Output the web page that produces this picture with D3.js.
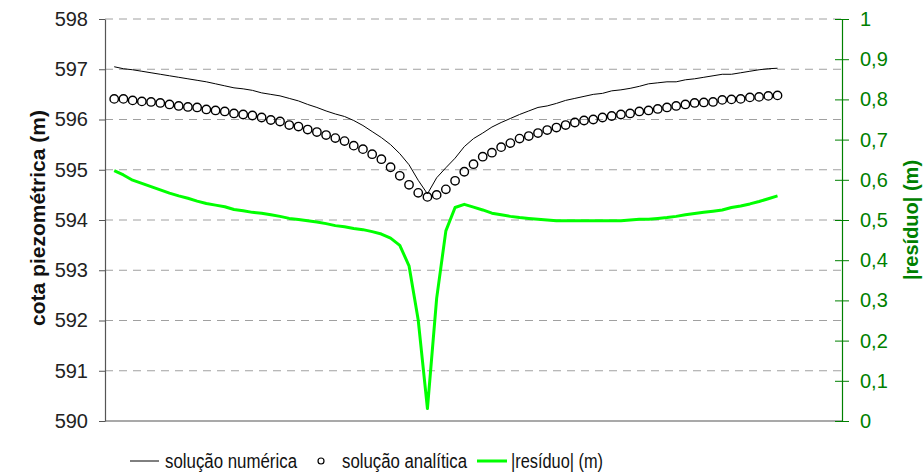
<!DOCTYPE html>
<html>
<head>
<meta charset="utf-8">
<script src="https://cdn.jsdelivr.net/npm/d3@7"></script>
<style>
  html, body { margin: 0; padding: 0; background: #fff; }
  svg { display: block; font-family: "Liberation Sans", Arial, sans-serif; }
</style>
</head>
<body>
<svg id="chart" width="924" height="475"></svg>
<script>
// ---- data ----
const numerica = [
  597.05, 597.01, 596.99, 596.96, 596.93, 596.90, 596.87, 596.84, 596.81, 596.78,
  596.75, 596.71, 596.67, 596.63, 596.61, 596.58, 596.53, 596.50, 596.47, 596.42,
  596.37, 596.30, 596.24, 596.17, 596.11, 596.06, 595.98, 595.88, 595.76, 595.64,
  595.50, 595.32, 595.10, 594.79, 594.52, 594.84, 595.04, 595.23, 595.46, 595.62,
  595.73, 595.85, 595.94, 596.02, 596.10, 596.17, 596.24, 596.27, 596.32, 596.38,
  596.42, 596.46, 596.50, 596.52, 596.57, 596.59, 596.62, 596.66, 596.71, 596.73,
  596.75, 596.75, 596.79, 596.81, 596.84, 596.87, 596.90, 596.90, 596.93, 596.96,
  596.99, 597.01, 597.02
];
const analitica = [
  596.41, 596.41, 596.38, 596.36, 596.35, 596.33, 596.30, 596.27, 596.25, 596.24,
  596.20, 596.18, 596.16, 596.12, 596.10, 596.08, 596.04, 595.99, 595.96, 595.89,
  595.86, 595.80, 595.75, 595.69, 595.63, 595.57, 595.48, 595.41, 595.31, 595.21,
  595.05, 594.88, 594.70, 594.54, 594.46, 594.50, 594.61, 594.78, 594.96, 595.11,
  595.26, 595.34, 595.45, 595.53, 595.62, 595.67, 595.73, 595.79, 595.84, 595.89,
  595.94, 595.98, 596.00, 596.04, 596.07, 596.10, 596.12, 596.16, 596.18, 596.21,
  596.24, 596.27, 596.30, 596.33, 596.34, 596.35, 596.39, 596.40, 596.41, 596.44,
  596.45, 596.47, 596.48
];
const residuo = [
  0.623, 0.612, 0.599, 0.591, 0.583, 0.575, 0.567, 0.560, 0.554, 0.547,
  0.541, 0.537, 0.533, 0.526, 0.523, 0.519, 0.517, 0.513, 0.509, 0.504,
  0.501, 0.498, 0.495, 0.491, 0.486, 0.483, 0.479, 0.476, 0.471, 0.465,
  0.455, 0.437, 0.386, 0.251, 0.031, 0.305, 0.473, 0.531, 0.539, 0.532,
  0.525, 0.517, 0.513, 0.509, 0.506, 0.504, 0.502, 0.500, 0.498, 0.498,
  0.498, 0.498, 0.498, 0.498, 0.498, 0.498, 0.500, 0.502, 0.502, 0.504,
  0.506, 0.509, 0.513, 0.516, 0.519, 0.522, 0.525, 0.531, 0.535, 0.540,
  0.546, 0.553, 0.560
];
const ticksEsquerda = [590, 591, 592, 593, 594, 595, 596, 597, 598];
const ticksDireita = [0, 0.1, 0.2, 0.3, 0.4, 0.5, 0.6, 0.7, 0.8, 0.9, 1];
const legenda = ["solução numérica", "solução analítica", "|resíduo| (m)"];
const tituloEsquerda = "cota piezométrica (m)";
const tituloDireita = "|resíduo| (m)";

// ---- layout ----
const L = 105, R = 842, T = 19, B = 421;
const green = "#00ff00", axisGreen = "#008000";

const svg = d3.select("#chart");
const x = d3.scaleLinear().domain([-1, 79]).range([L, R]);
const yL = d3.scaleLinear().domain([590, 598]).range([B, T]);
const yR = d3.scaleLinear().domain([0, 1]).range([B, T]);

// gridlines
svg.append("g").selectAll("line")
  .data(ticksEsquerda.filter(d => d > 590))
  .join("line")
  .attr("x1", L).attr("x2", R)
  .attr("y1", d => yL(d)).attr("y2", d => yL(d))
  .attr("stroke", "#a0a0a0").attr("stroke-width", 1)
  .attr("stroke-dasharray", "8,6");

// bottom baseline
svg.append("line")
  .attr("x1", L).attr("x2", R).attr("y1", B).attr("y2", B)
  .attr("stroke", "#555").attr("stroke-width", 1.2);

// left axis
const gL = svg.append("g").attr("transform", `translate(${L},0)`)
  .call(d3.axisLeft(yL).tickValues(ticksEsquerda).tickFormat(d3.format("d"))
    .tickSize(6).tickPadding(11).tickSizeOuter(0));
gL.select(".domain").attr("stroke", "#555").attr("stroke-width", 1.2);
gL.selectAll(".tick line").attr("stroke", "#555");
gL.selectAll(".tick text").attr("fill", "#222").style("font-size", "20px")
  .style("font-family", "Liberation Sans, Arial, sans-serif");

// right axis
const fmtR = d => d3.format(".1~f")(d).replace(".", ",");
const gR = svg.append("g").attr("transform", `translate(${R},0)`)
  .call(d3.axisRight(yR).tickValues(ticksDireita).tickFormat(fmtR)
    .tickSize(7).tickPadding(11).tickSizeOuter(0));
gR.select(".domain").attr("stroke", axisGreen).attr("stroke-width", 1.2);
gR.selectAll(".tick line").attr("stroke", axisGreen).attr("x1", -7);
gR.selectAll(".tick text").attr("fill", axisGreen).style("font-size", "20px")
  .style("font-family", "Liberation Sans, Arial, sans-serif");

// axis titles
svg.append("text")
  .attr("transform", `translate(37,${(T + B) / 2 - 2}) rotate(-90)`)
  .attr("text-anchor", "middle").attr("dominant-baseline", "central")
  .attr("font-size", 21).attr("font-weight", "bold").attr("fill", "#111")
  .text(tituloEsquerda);
svg.append("text")
  .attr("transform", `translate(911,${(T + B) / 2}) rotate(-90)`)
  .attr("text-anchor", "middle").attr("dominant-baseline", "central")
  .attr("font-size", 20).attr("font-weight", "bold").attr("fill", axisGreen)
  .text(tituloDireita);

// residual line (right axis)
svg.append("path")
  .datum(residuo)
  .attr("fill", "none").attr("stroke", green).attr("stroke-width", 3)
  .attr("stroke-linejoin", "round")
  .attr("d", d3.line().x((d, i) => x(i)).y(d => yR(d)));

// numeric solution line
svg.append("path")
  .datum(numerica)
  .attr("fill", "none").attr("stroke", "#000").attr("stroke-width", 1)
  .attr("d", d3.line().x((d, i) => x(i)).y(d => yL(d)));

// analytic circles
svg.append("g").selectAll("circle")
  .data(analitica)
  .join("circle")
  .attr("cx", (d, i) => x(i)).attr("cy", d => yL(d))
  .attr("r", 4.2).attr("fill", "none")
  .attr("stroke", "#000").attr("stroke-width", 1.4);

// legend
const ly = 461;
const lg = svg.append("g").attr("font-size", 20).attr("fill", "#111");
lg.append("line").attr("x1", 130).attr("x2", 159).attr("y1", ly).attr("y2", ly)
  .attr("stroke", "#000").attr("stroke-width", 1);
lg.append("text").attr("x", 165).attr("y", ly).attr("dominant-baseline", "central")
  .attr("textLength", 132).attr("lengthAdjust", "spacingAndGlyphs").text(legenda[0]);
lg.append("circle").attr("cx", 321).attr("cy", ly).attr("r", 3)
  .attr("fill", "none").attr("stroke", "#000").attr("stroke-width", 1.2);
lg.append("text").attr("x", 342).attr("y", ly).attr("dominant-baseline", "central")
  .attr("textLength", 125).attr("lengthAdjust", "spacingAndGlyphs").text(legenda[1]);
lg.append("line").attr("x1", 477).attr("x2", 507).attr("y1", ly).attr("y2", ly)
  .attr("stroke", green).attr("stroke-width", 3);
lg.append("text").attr("x", 511).attr("y", ly).attr("dominant-baseline", "central")
  .attr("textLength", 92).attr("lengthAdjust", "spacingAndGlyphs").text(legenda[2]);
</script>
</body>
</html>
